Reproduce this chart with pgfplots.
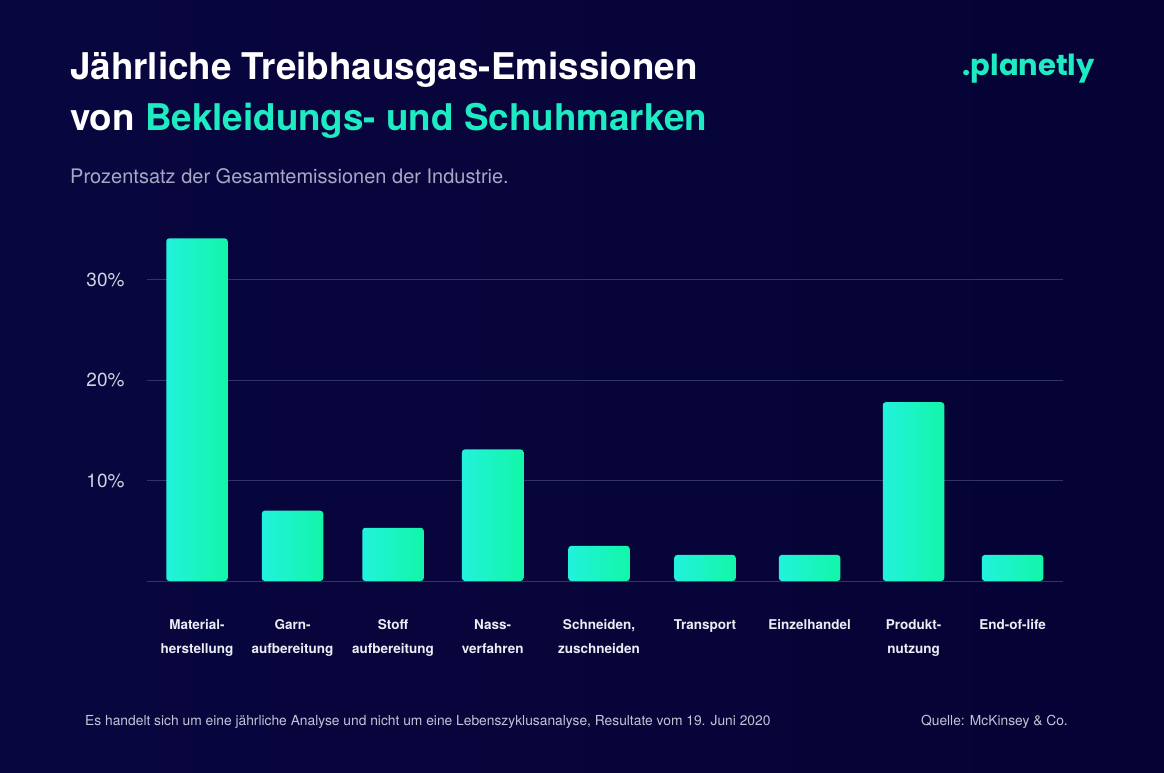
\documentclass[border=0pt]{standalone}
\usepackage{pgfplots}
\pgfplotsset{compat=1.18}
\usepackage{fontspec}
\setmainfont{TeX Gyre Heros}
\newfontfamily\logofont{Poppins}
\definecolor{bgc}{HTML}{08063F}
\definecolor{bgc2}{HTML}{050334}
\definecolor{gridc}{HTML}{34326A}
\definecolor{teal}{HTML}{1EEBC2}
\definecolor{barA}{HTML}{22F2DC}
\definecolor{barB}{HTML}{12F6A8}
\definecolor{subc}{HTML}{A9A8C4}
\definecolor{tickc}{HTML}{D2D2E2}
\definecolor{catc}{HTML}{ECECF4}
\definecolor{footc}{HTML}{C4C4D6}
\pgfplotstableread{
x y
197 34.1
292.5 7.0
393 5.3
492.7 13.1
599 3.5
705 2.6
809.6 2.6
913.5 17.8
1012.6 2.6
}\datatable
\begin{document}
\begin{tikzpicture}[x=1pt,y=1pt]
\fill[left color=bgc, right color=bgc2] (0,0) rectangle (1164,772);
\useasboundingbox (0,0) rectangle (1164,772);
% titles
\node[anchor=base west, inner sep=0, text=white, font=\fontsize{36.8}{40}\selectfont\bfseries] at (70,692) {Jährliche Treibhausgas-Emissionen};
\node[anchor=base west, inner sep=0, text=white, font=\fontsize{36.8}{40}\selectfont\bfseries] at (70,641) {von \textcolor{teal}{Bekleidungs- und Schuhmarken}};
\node[anchor=base west, inner sep=0, text=subc, font=\fontsize{20}{24}\selectfont] at (70,588) {Prozentsatz der Gesamtemissionen der Industrie.};
\node[anchor=base east, inner sep=0, text=teal, font=\fontsize{29}{32}\selectfont\logofont\bfseries] at (1095,696) {.planetly};
% footer
\node[anchor=base west, inner sep=0, text=footc, font=\fontsize{13.8}{16}\selectfont] at (85,47) {Es handelt sich um eine jährliche Analyse und nicht um eine Lebenszyklusanalyse, Resultate vom 19. Juni 2020};
\node[anchor=base east, inner sep=0, text=footc, font=\fontsize{13.8}{16}\selectfont] at (1068,47) {Quelle: McKinsey \& Co.};
\begin{axis}[
  at={(147,190)}, anchor=south west,
  scale only axis, width=916pt, height=361.8pt,
  xmin=147, xmax=1063, ymin=0, ymax=36,
  axis line style={draw=none},
  major tick length=0pt,
  ytick={0,10,20,30}, yticklabels={,10\%,20\%,30\%},
  ymajorgrids, grid style={color=gridc, line width=1pt},
  yticklabel style={text=tickc, font=\fontsize{19}{22}\selectfont, xshift=-19pt},
  xtick={197,292.5,393,492.7,599,705,809.6,913.5,1012.6},
  xticklabels={{Material-\\herstellung},{Garn-\\aufbereitung},{Stoff\\aufbereitung},{Nass-\\verfahren},{Schneiden,\\zuschneiden},{Transport},{Einzelhandel},{Produkt-\\nutzung},{End-of-life}},
  xticklabel style={text=catc, align=center, anchor=north, font=\fontsize{13.5}{24}\selectfont\bfseries, yshift=-35pt},
  clip=false,
]
\pgfplotsinvokeforeach{0,...,8}{
  \addplot[ybar, bar width=61.5, bar shift=0pt, draw=none, left color=barA, right color=barB, rounded corners=3pt]
    table[x=x, y=y, skip coords between index={0}{#1}, skip coords between index={\numexpr#1+1\relax}{9}] {\datatable};
}
\end{axis}
\end{tikzpicture}
\end{document}
